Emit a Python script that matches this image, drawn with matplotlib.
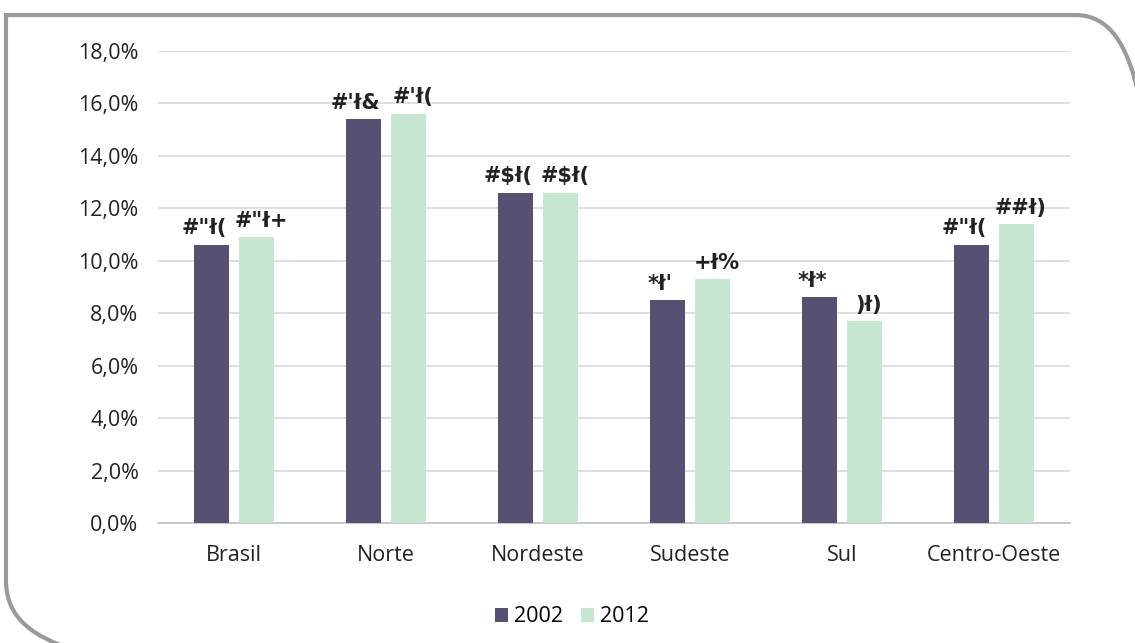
import numpy as np
import matplotlib.pyplot as plt
from matplotlib.path import Path
from matplotlib.patches import PathPatch

plt.rcParams['font.family'] = ['Open Sans', 'DejaVu Sans']

#Data
regions = ['Brasil', 'Norte', 'Nordeste', 'Sudeste', 'Sul', 'Centro-Oeste']
vals_2002 = [10.6, 15.4, 12.6, 8.5, 8.6, 10.6]
vals_2012 = [10.9, 15.6, 12.6, 9.3, 7.7, 11.4]
# labels as they appear in the source picture (broken font mapping)
labels_2002 = ['#"ł(', "#'ł&", '#$ł(', "*ł'", '*ł*', '#"ł(']
labels_2012 = ['#"ł+', "#'ł(", '#$ł(', '+ł%', ')ł)', '##ł)']
yticks = [0, 2, 4, 6, 8, 10, 12, 14, 16, 18]

c2002 = '#575072'
c2012 = '#c6e6d2'

W, H = 1135, 643
fig = plt.figure(figsize=(W / 100, H / 100), dpi=100)
ax = fig.add_axes([158 / W, 1 - 523 / H, 912 / W, 472 / H])

x = np.arange(len(regions))
bw = 0.224
off = 0.148
ax.bar(x - off, vals_2002, bw, color=c2002, label='2002', zorder=3)
ax.bar(x + off, vals_2012, bw, color=c2012, label='2012', zorder=3)

lbl = dict(ha='center', va='bottom', fontsize=15, fontweight='bold', color='#222222',
           family='DejaVu Sans Condensed')
for i in range(len(regions)):
   ax.text(x[i] - off - 0.05, vals_2002[i] + 0.25, labels_2002[i], **lbl)
   ax.text(x[i] + off + 0.03, vals_2012[i] + 0.25, labels_2012[i], **lbl)

ax.set_xlim(-0.5, len(regions) - 0.5)
ax.set_ylim(0, 18)
ax.set_yticks(yticks)
ax.set_yticklabels([f'{v:.1f}%'.replace('.', ',') for v in yticks], fontsize=15.5, color='#222222')
ax.set_xticks(x)
ax.set_xticklabels(regions, fontsize=15.5, color='#222222')
ax.tick_params(length=0, pad=14)
ax.tick_params(axis='x', pad=16)
ax.grid(axis='y', color='#d9d9d9', linewidth=1.2, zorder=0)
for s in ['top', 'right', 'left']:
   ax.spines[s].set_visible(False)
ax.spines['bottom'].set_color('#bfbfbf')
ax.spines['bottom'].set_linewidth(1.2)

fig.legend(loc='center', bbox_to_anchor=(572 / W, 1 - 617 / H), ncol=2, frameon=False,
           fontsize=15.5, handlelength=0.6, handleheight=0.6, columnspacing=0.8, handletextpad=0.3)

#Rounded frame (pixel coords, y from top)
def px(xp, yp):
   return (xp / W, 1 - yp / H)

verts = [px(60, 645), px(22, 630), px(6, 610), px(6, 580),
         px(6, 15),
         px(1075, 15), px(1110, 15), px(1128, 45), px(1140, 100)]
codes = [Path.MOVETO, Path.CURVE4, Path.CURVE4, Path.CURVE4,
         Path.LINETO,
         Path.LINETO, Path.CURVE4, Path.CURVE4, Path.CURVE4]
frame = PathPatch(Path(verts, codes), transform=fig.transFigure, fill=False,
                  edgecolor='#9a9a9a', linewidth=3)
fig.patches.append(frame)

fig.savefig('out.png', dpi=100)
